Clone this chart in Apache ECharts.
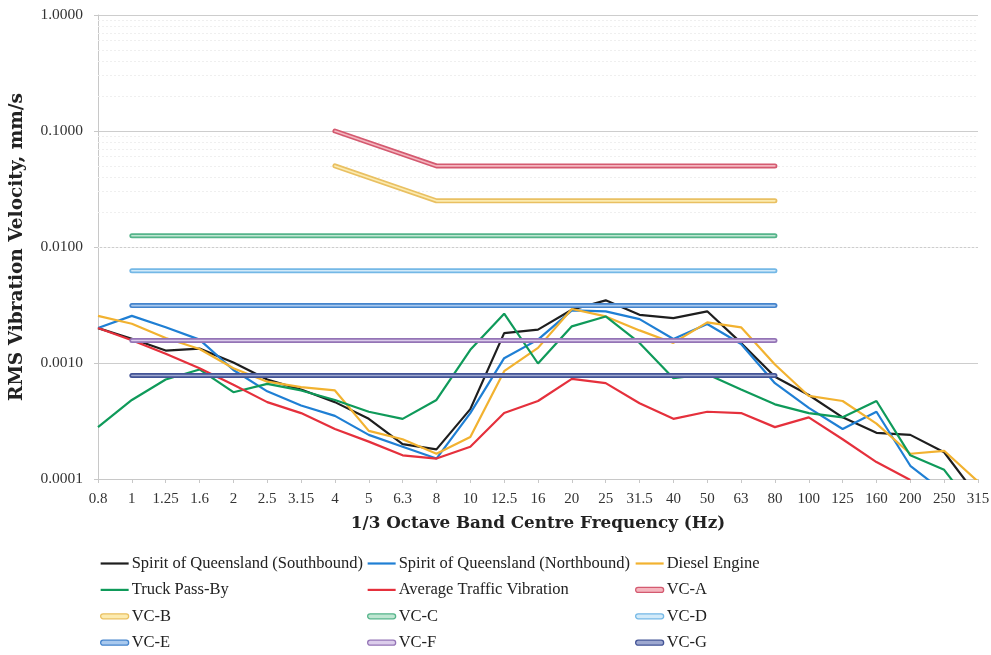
<!DOCTYPE html>
<html>
<head>
<meta charset="utf-8">
<title>RMS Vibration Velocity</title>
<script src="https://cdn.jsdelivr.net/npm/echarts@6/dist/echarts.min.js"></script>
<style>
  html, body { margin: 0; padding: 0; background: #fff; }
  #chart { width: 991px; height: 655px; }
</style>
</head>
<body>
<div id="chart"></div>
<script>
// 1/3 octave band centre frequencies (Hz)
const bands = ['0.8','1','1.25','1.6','2','2.5','3.15','4','5','6.3','8','10','12.5','16','20','25','31.5','40','50','63','80','100','125','160','200','250','315'];

// Measured RMS vibration velocity, mm/s
const southbound = [0.0020, 0.00162, 0.00128, 0.00133, 0.00101, 0.00072, 0.00059, 0.00046, 0.00033, 0.00020, 0.00018, 0.00040, 0.00181, 0.00194, 0.00288, 0.00347, 0.00260, 0.00244, 0.00279, 0.00149, 0.00076, 0.00053, 0.00034, 0.00025, 0.00024, 0.00017, 0.00007];
const northbound = [0.0020, 0.00255, 0.00203, 0.00159, 0.00087, 0.00057, 0.00043, 0.00035, 0.00024, 0.00019, 0.00015, 0.00037, 0.00110, 0.00159, 0.00284, 0.00279, 0.00239, 0.00161, 0.00217, 0.00146, 0.00067, 0.00041, 0.00027, 0.00038, 0.00013, 0.000077, null];
const dieselEngine = [0.00255, 0.00218, 0.00164, 0.00132, 0.00090, 0.00069, 0.00062, 0.00058, 0.00026, 0.00022, 0.000165, 0.00023, 0.00085, 0.00135, 0.00292, 0.00252, 0.00191, 0.00149, 0.00224, 0.00203, 0.00097, 0.00052, 0.00047, 0.00030, 0.000165, 0.000175, 0.000095];
const truckPassBy = [0.00028, 0.00048, 0.00072, 0.00088, 0.00056, 0.00066, 0.00058, 0.00048, 0.00038, 0.00033, 0.00048, 0.0013, 0.00266, 0.00099, 0.00207, 0.00252, 0.00149, 0.00074, 0.00080, 0.00059, 0.00044, 0.00037, 0.00034, 0.00047, 0.00016, 0.00012, 0.00005];
const avgTraffic = [0.0020, 0.00157, 0.0012, 0.0009, 0.00065, 0.00046, 0.00037, 0.00027, 0.00021, 0.00016, 0.00015, 0.00019, 0.00037, 0.00047, 0.00073, 0.00067, 0.00045, 0.00033, 0.00038, 0.00037, 0.00028, 0.00034, 0.00022, 0.00014, 0.000098, null, null];

// Vibration criteria curves as [band, mm/s] break points
const vcA = [['4', 0.1], ['8', 0.05], ['80', 0.05]];
const vcB = [['4', 0.05], ['8', 0.025], ['80', 0.025]];
const vcC = [['1', 0.0125], ['80', 0.0125]];
const vcD = [['1', 0.00625], ['80', 0.00625]];
const vcE = [['1', 0.003125], ['80', 0.003125]];
const vcF = [['1', 0.0015625], ['80', 0.0015625]];
const vcG = [['1', 0.00078], ['80', 0.00078]];

// Axis tick values
const yTicks = [0.0001, 0.001, 0.01, 0.1, 1];

const FONT = 'Liberation Serif';
const TITLE_FONT = 'DejaVu Serif';

const measured = [
  { name: 'Spirit of Queensland (Southbound)', data: southbound, color: '#1e1e1e' },
  { name: 'Spirit of Queensland (Northbound)', data: northbound, color: '#1f7fd4' },
  { name: 'Diesel Engine', data: dieselEngine, color: '#f2b230' },
  { name: 'Truck Pass-By', data: truckPassBy, color: '#0f9a5a' },
  { name: 'Average Traffic Vibration', data: avgTraffic, color: '#e5303c' }
];

const criteria = [
  { name: 'VC-A', data: vcA, edge: '#d45a70', core: '#f4b6bf' },
  { name: 'VC-B', data: vcB, edge: '#e9c062', core: '#fcebb0' },
  { name: 'VC-C', data: vcC, edge: '#55b48a', core: '#bfe6d2' },
  { name: 'VC-D', data: vcD, edge: '#74b8e6', core: '#d2eaf9' },
  { name: 'VC-E', data: vcE, edge: '#4584cc', core: '#a9c9ee' },
  { name: 'VC-F', data: vcF, edge: '#9474b6', core: '#dccdeb' },
  { name: 'VC-G', data: vcG, edge: '#435496', core: '#9ea8d0' }
];

// faint minor grid at 2..9 within each decade
const minorGrid = [];
for (let d = 0; d < yTicks.length - 1; d++) {
  for (let m = 2; m <= 9; m++) minorGrid.push({ yAxis: yTicks[d] * m });
}

const series = [];
measured.forEach(function (s, i) {
  const item = {
    name: s.name,
    type: 'line',
    data: s.data,
    symbol: 'none',
    showSymbol: false,
    connectNulls: false,
    z: 3,
    lineStyle: { color: s.color, width: 2.2 },
    itemStyle: { color: s.color }
  };
  if (i === 0) {
    item.markLine = {
      silent: true,
      symbol: 'none',
      label: { show: false },
      lineStyle: { color: '#efefef', type: [2, 2], width: 1 },
      data: minorGrid,
      z: 1
    };
  }
  series.push(item);
});
criteria.forEach(function (s) {
  series.push({
    name: s.name, type: 'line', data: s.data, symbol: 'none', showSymbol: false, z: 4,
    lineStyle: { color: s.edge, width: 5, cap: 'round', join: 'round' },
    itemStyle: { color: s.edge }
  });
  series.push({
    name: s.name, type: 'line', data: s.data, symbol: 'none', showSymbol: false, z: 5,
    lineStyle: { color: s.core, width: 1.6, cap: 'round', join: 'round' },
    itemStyle: { color: s.core }
  });
});

const lineIcon = 'path://M0,0 H28 V2.2 H0 Z';
const tubeIcon = 'path://M2.5,0 H25.5 A2.5,2.5 0 0 1 25.5,5 H2.5 A2.5,2.5 0 0 1 2.5,0 Z';

function legendItem(name) {
  const m = measured.find(function (s) { return s.name === name; });
  if (m) {
    return { name: name, icon: lineIcon, itemStyle: { color: m.color, borderWidth: 0 } };
  }
  const c = criteria.find(function (s) { return s.name === name; });
  return { name: name, icon: tubeIcon, itemStyle: { color: c.core, borderColor: c.edge, borderWidth: 1.3 } };
}

function legendColumn(left, names) {
  return {
    orient: 'vertical',
    left: left,
    top: 555,
    padding: 0,
    itemWidth: 28,
    itemHeight: 6,
    itemGap: 9.4,
    symbolKeepAspect: true,
    selectedMode: false,
    textStyle: { fontFamily: FONT, fontSize: 16.5, color: '#222', lineHeight: 16, padding: [0, 0, 0, -2] },
    data: names.map(legendItem)
  };
}

const chart = echarts.init(document.getElementById('chart'), null, { renderer: 'canvas' });
chart.setOption({
  animation: false,
  backgroundColor: '#ffffff',
  grid: { left: 98, right: 13, top: 15, bottom: 176, containLabel: false, outerBoundsMode: 'none' },
  legend: [
    legendColumn(100, ['Spirit of Queensland (Southbound)', 'Truck Pass-By', 'VC-B', 'VC-E']),
    legendColumn(367, ['Spirit of Queensland (Northbound)', 'Average Traffic Vibration', 'VC-C', 'VC-F']),
    legendColumn(635, ['Diesel Engine', 'VC-A', 'VC-D', 'VC-G'])
  ],
  xAxis: {
    type: 'category',
    data: bands,
    boundaryGap: false,
    name: '1/3 Octave Band Centre Frequency (Hz)',
    nameLocation: 'middle',
    nameGap: 36,
    nameTextStyle: { fontFamily: TITLE_FONT, fontSize: 16.8, fontWeight: 'bold', color: '#222' },
    axisLine: { show: true, lineStyle: { color: '#c8c8c8', width: 1 } },
    axisTick: { show: true, alignWithLabel: true, length: 4, lineStyle: { color: '#c8c8c8' } },
    axisLabel: { fontFamily: FONT, fontSize: 15, color: '#333', margin: 13, interval: 0 },
    splitLine: { show: false }
  },
  yAxis: {
    type: 'log',
    logBase: 10,
    min: yTicks[0],
    max: yTicks[yTicks.length - 1],
    name: 'RMS Vibration Velocity, mm/s',
    nameLocation: 'middle',
    nameGap: 71,
    nameRotate: 90,
    nameTextStyle: { fontFamily: TITLE_FONT, fontSize: 18.5, fontWeight: 'bold', color: '#222' },
    axisLine: { show: true, lineStyle: { color: '#c8c8c8', width: 1 } },
    axisTick: { show: true, length: 4, lineStyle: { color: '#c8c8c8' } },
    axisLabel: {
      fontFamily: FONT, fontSize: 15.5, color: '#333', margin: 15,
      formatter: function (v) { return Number(v).toFixed(4); }
    },
    splitLine: { show: true, lineStyle: { color: '#cdcdcd', width: 1 } }
  },
  series: series
});
</script>
</body>
</html>
